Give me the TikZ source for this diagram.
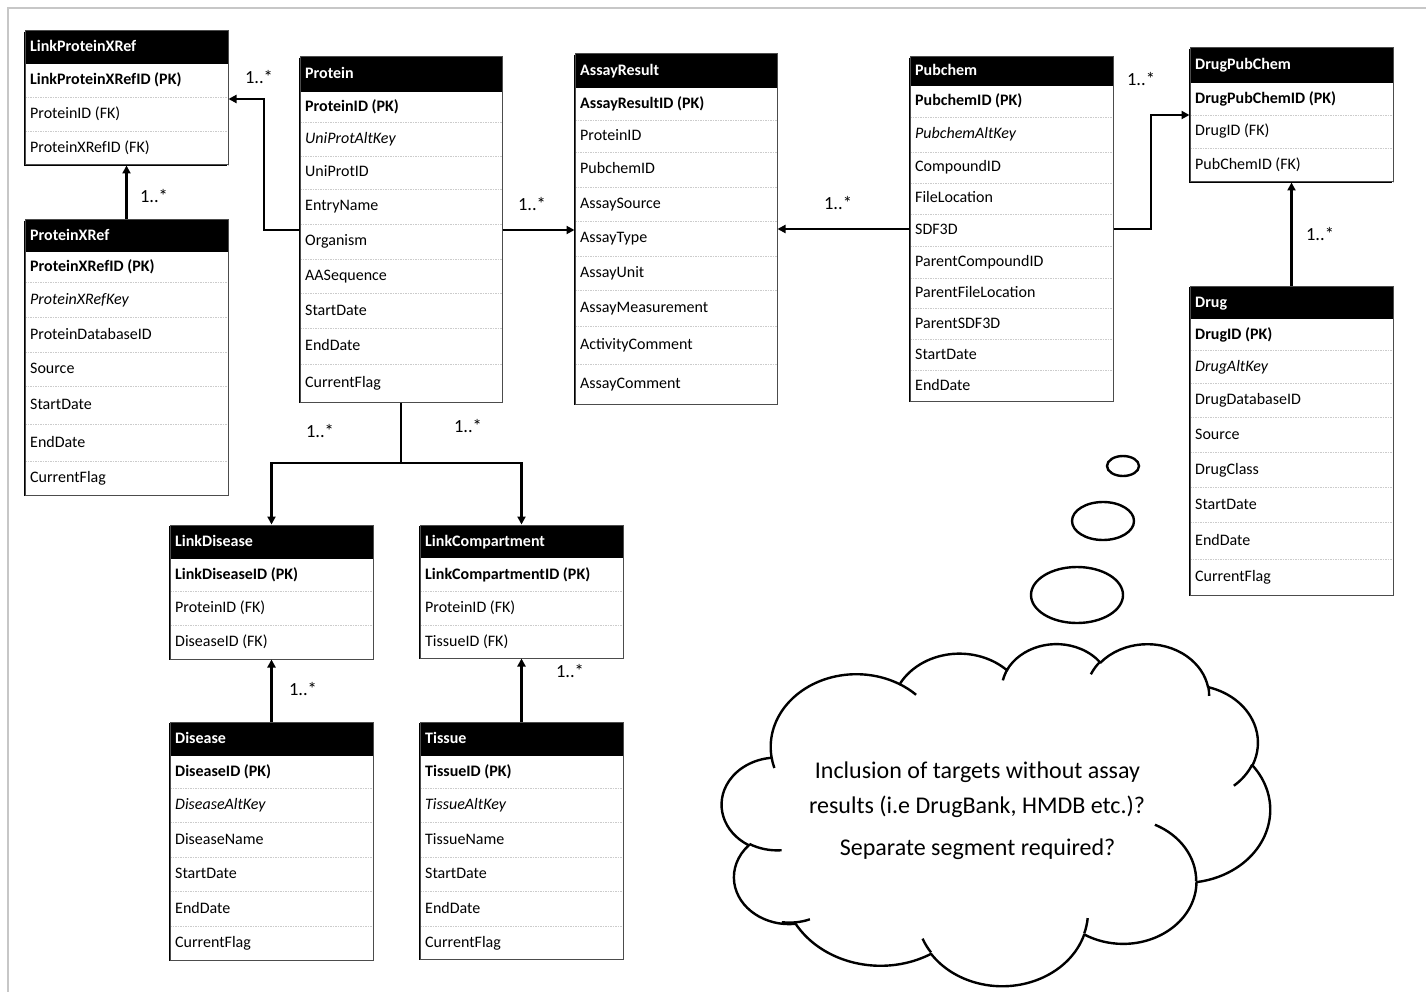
\documentclass[tikz,border=0pt]{standalone}
\usepackage{fontspec}
\setmainfont{Carlito}
\usetikzlibrary{arrows.meta,fit,shapes.geometric}

\tikzset{
  rowtext/.style={anchor=base west, inner sep=0pt, font=\fontsize{16}{19}\selectfont},
  hdrtext/.style={anchor=base west, inner sep=0pt, text=white, font=\fontsize{16}{19}\selectfont\bfseries},
  hdrbox/.style={fill=black, inner sep=0pt},
  tblbox/.style={draw=black!70, line width=1pt, inner sep=0pt},
  tblshadow/.style={draw=black, line width=1.2pt},
  rowsep/.style={draw=black!20, line width=0.6pt, dash pattern=on 1.5pt off 1pt},
  conn/.style={line width=2.6pt, -{Triangle[length=8pt,width=8pt]}},
  wire/.style={line width=2.6pt},
  mult/.style={inner sep=0pt, font=\fontsize{18.5}{21}\selectfont},
  cloudline/.style={line width=2.4pt, line join=round},
  bubble/.style={draw, ellipse, line width=2.4pt, inner sep=0pt},
  cloudtext/.style={anchor=base, inner sep=0pt, font=\fontsize{24}{28}\selectfont},
  oarc/.style n args={4}{x radius=#1, y radius=#2,
    start angle={vp(#3,#1,#2)},
    delta angle={mod(vp(#3+#4,#1,#2)-vp(#3,#1,#2)+720,360)}}
}

% entity table: name, title, left, top, right, header bottom, bottom, rows (row bottom / text)
\newcommand\ertable[8]{%
  \foreach \yb/\rt [count=\ri, remember=\yb as \ya (initially #6)] in {#8}{%
    \draw[rowsep] (#3,\yb) -- (#5,\yb);
    \node[rowtext] (#1-\ri) at (#3+5,{(\ya+\yb)/2+4.5}) {\rt};
  }%
  \node[hdrbox, fit={(#3,#4) (#5,#6)}] (#1-h) {};
  \node[hdrtext] (#1-t) at (#3+5,{(#4+#6)/2+4.5}) {#2};
  \draw[tblshadow] (#3-0.6,#4+1) -- (#3-0.6,#7+0.6) -- (#5-1,#7+0.6);
  \node[tblbox, fit={(#3,#4) (#5,#7)}] (#1) {};
}

\begin{document}
\begin{tikzpicture}[x=1pt, y=-1pt,
  declare function={vp(\angv,\rxv,\ryv)=atan2(\rxv*sin(\angv),\ryv*cos(\angv));}]
\useasboundingbox (0,0) rectangle (1426,992);
\draw[black!22, line width=1.2pt] (8,992) -- (8,8) -- (1426,8);

% ---- entities
\ertable{lpx}{LinkProteinXRef}{25}{31}{228}{64}{165}{97/{\bfseries LinkProteinXRefID (PK)}, 131/ProteinID (FK), 165/ProteinXRefID (FK)}
\ertable{pxr}{ProteinXRef}{25}{220}{228}{252}{495}{282/{\bfseries ProteinXRefID (PK)}, 317/{\itshape ProteinXRefKey}, 352/ProteinDatabaseID, 386/Source, 424/StartDate, 461/EndDate, 495/CurrentFlag}
\ertable{protein}{Protein}{300}{57}{502}{92}{402}{122/{\bfseries ProteinID (PK)}, 156/{\itshape UniProtAltKey}, 189/UniProtID, 224/EntryName, 259/Organism, 293/AASequence, 328/StartDate, 364/EndDate, 402/CurrentFlag}
\ertable{assay}{AssayResult}{575}{54}{777}{88}{404}{120/{\bfseries AssayResultID (PK)}, 152/ProteinID, 187/PubchemID, 221/AssaySource, 256/AssayType, 290/AssayUnit, 326/AssayMeasurement, 364/ActivityComment, 404/AssayComment}
\ertable{pubchem}{Pubchem}{910}{57}{1113}{86}{401}{117/{\bfseries PubchemID (PK)}, 152/{\itshape PubchemAltKey}, 183/CompoundID, 214/FileLocation, 246/SDF3D, 278/ParentCompoundID, 308/ParentFileLocation, 339/ParentSDF3D, 370/StartDate, 401/EndDate}
\ertable{dpc}{DrugPubChem}{1190}{48}{1393}{83}{182}{115/{\bfseries DrugPubChemID (PK)}, 148/DrugID (FK), 182/PubChemID (FK)}
\ertable{drug}{Drug}{1190}{286}{1393}{319}{595}{350/{\bfseries DrugID (PK)}, 383/{\itshape DrugAltKey}, 417/DrugDatabaseID, 452/Source, 487/DrugClass, 522/StartDate, 559/EndDate, 595/CurrentFlag}
\ertable{ld}{LinkDisease}{170}{525}{373}{559}{659}{591/{\bfseries LinkDiseaseID (PK)}, 625/ProteinID (FK), 659/DiseaseID (FK)}
\ertable{lc}{LinkCompartment}{420}{525}{623}{558}{658}{591/{\bfseries LinkCompartmentID (PK)}, 625/ProteinID (FK), 658/TissueID (FK)}
\ertable{dis}{Disease}{170}{722}{373}{756}{960}{788/{\bfseries DiseaseID (PK)}, 822/{\itshape DiseaseAltKey}, 857/DiseaseName, 891/StartDate, 926/EndDate, 960/CurrentFlag}
\ertable{tis}{Tissue}{420}{722}{623}{756}{959}{788/{\bfseries TissueID (PK)}, 822/{\itshape TissueAltKey}, 857/TissueName, 891/StartDate, 926/EndDate, 959/CurrentFlag}

% ---- relationships
\coordinate (pj) at (264,230);
\coordinate (pk) at (264,99);
\coordinate (qj) at (1151,229);
\coordinate (qk) at (1151,115);
\coordinate (sj) at (401,463);
\draw[conn] (protein.west |- pj) -- (pj) -- (pk) -- (lpx.east |- pk);
\draw[conn] (pxr.north) -- (lpx.south);
\draw[conn] (protein.east |- pj) -- (assay.west |- pj);
\draw[conn] (pubchem.west |- qj) -- (assay.east |- qj);
\draw[conn] (pubchem.east |- qj) -- (qj) -- (qk) -- (dpc.west |- qk);
\draw[conn] (drug.north) -- (dpc.south);
\draw[wire] (protein.south) -- (sj);
\draw[conn] (sj) -| (ld.north);
\draw[conn] (sj) -| (lc.north);
\draw[conn] (dis.north) -- (ld.south);
\draw[conn] (tis.north) -- (lc.south);

\node[mult] (m1) at (259,77) {1..*};
\node[mult] (m2) at (154,196) {1..*};
\node[mult] (m3) at (532,204) {1..*};
\node[mult] (m4) at (838,203) {1..*};
\node[mult] (m5) at (1141,79) {1..*};
\node[mult] (m6) at (1320,234) {1..*};
\node[mult] (m7) at (320,431) {1..*};
\node[mult] (m8) at (468,426) {1..*};
\node[mult] (m9) at (303,689) {1..*};
\node[mult] (m10) at (570,671) {1..*};

% ---- thought bubbles
\node[bubble, minimum width=32, minimum height=20] (b1) at (1123,466) {};
\node[bubble, minimum width=62, minimum height=38] (b2) at (1103,521) {};
\node[bubble, minimum width=92, minimum height=56] (b3) at (1077,595) {};

% ---- cloud outline and inner creases
\begin{scope}[shift={(722,643)}, xscale=1.26852, yscale=0.79167]
\draw[cloudline, fill=white] (39.00,143.70)
  arc[oarc={67.53}{91.90}{-190.48748}{123.78053}]
  arc[oarc={53.33}{72.67}{-144.10238}{89.94523}]
  arc[oarc={43.65}{59.45}{-145.80792}{99.72302}]
  arc[oarc={48.57}{65.95}{-130.98607}{117.24173}]
  arc[oarc={53.33}{72.73}{-78.70888}{109.02692}]
  arc[oarc={67.75}{92.20}{-46.26725}{130.269}]
  arc[oarc={57.85}{78.67}{0.62502}{114.03333}]
  arc[oarc={67.52}{92.15}{22.4516}{115.17255}]
  arc[oarc={77.20}{105.43}{66.24263}{75.71102}]
  arc[oarc={43.60}{59.18}{-274.94208}{146.73557}]
  arc[oarc={43.45}{59.45}{-246.8285}{152.51885}]
  -- cycle;
\draw[cloudline]
  (46.93,261.77) arc[oarc={43.45}{59.45}{86.742}{26.4295}]
  (69.28,348.99) arc[oarc={43.60}{59.18}{73.61047}{22.18062}]
  (164.78,390.90) arc[oarc={67.52}{92.15}{137.62415}{14.0811}]
  (288.27,347.51) arc[oarc={67.52}{92.15}{6.45327}{15.99835}]
  (341.29,229.54) arc[oarc={57.85}{78.67}{-70.29235}{70.91737}]
  (417.98,153.54) arc[oarc={53.33}{72.73}{30.31803}{27.7515}]
  (383.24,54.26) arc[oarc={48.57}{65.95}{-13.74433}{14.8589}]
  (290.78,39.52) arc[oarc={48.57}{65.95}{-149.18145}{18.19537}]
  (221.41,47.20) arc[oarc={43.65}{59.45}{-163.49427}{17.68635}]
  (140.00,51.92) arc[oarc={67.53}{91.90}{-66.70695}{12.31935}]
  (41.27,157.89) arc[oarc={67.53}{91.90}{157.65435}{11.85817}];
\end{scope}

\node[cloudtext] (q1) at (977.5,778) {Inclusion of targets without assay};
\node[cloudtext] (q2) at (977,813) {results (i.e DrugBank, HMDB etc.)?};
\node[cloudtext] (q3) at (977.5,855) {Separate segment required?};
\end{tikzpicture}
\end{document}
